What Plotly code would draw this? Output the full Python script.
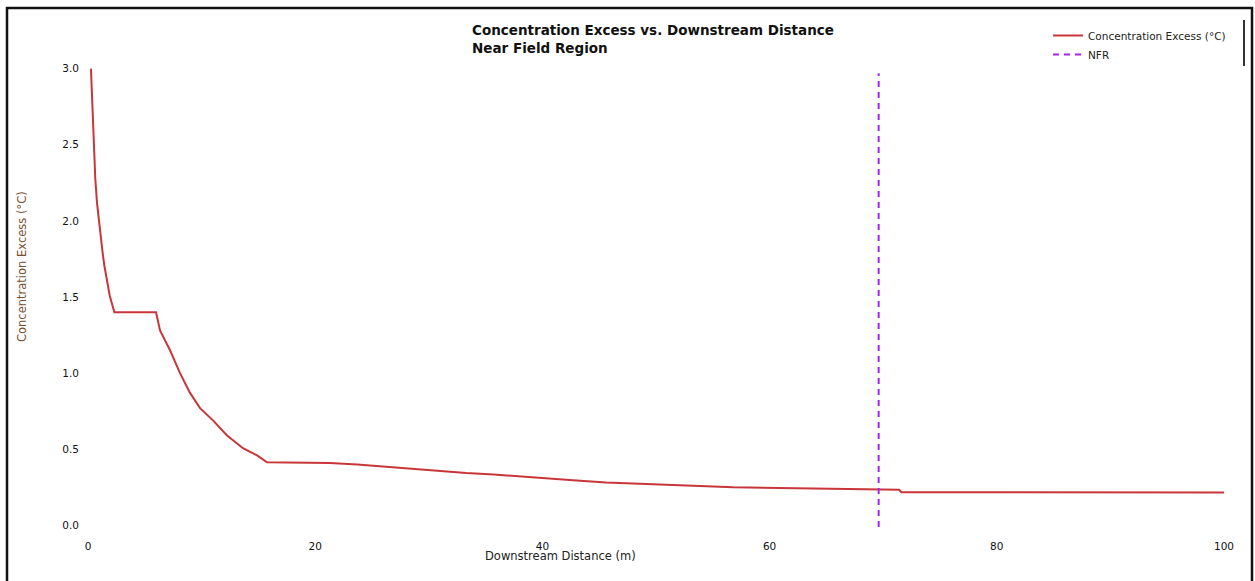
import plotly.graph_objects as go

# Concentration excess curve
distance_m = [0.26, 0.38, 0.50, 0.64, 0.79, 0.97, 1.14, 1.29, 1.43, 1.58, 1.76, 1.91, 2.09, 2.32,
              5.99, 6.34, 7.22, 8.10, 8.98, 9.86, 11.0, 12.24, 13.64, 14.88, 15.76,
              21.3, 23.7, 26.2, 28.4, 30.8, 33.3, 35.7, 38.0, 40.6, 43.0, 45.6, 51.3, 56.8,
              71.4, 71.6, 100.0]
conc_excess = [3.00, 2.74, 2.48, 2.28, 2.12, 1.99, 1.875, 1.79, 1.71, 1.64, 1.57, 1.51, 1.46, 1.40,
               1.40, 1.28, 1.15, 1.00, 0.87, 0.77, 0.69, 0.59, 0.507, 0.46, 0.414,
               0.41, 0.40, 0.386, 0.37, 0.357, 0.344, 0.334, 0.32, 0.307, 0.294, 0.281, 0.266, 0.25,
               0.234, 0.218, 0.216]

# Near field region boundary
nfr_x = [69.6, 69.6]
nfr_y = [-0.01, 2.97]

x_ticks = [0, 20, 40, 60, 80, 100]
x_tick_labels = ["0", "20", "40", "60", "80", "100"]
y_ticks = [0.0, 0.5, 1.0, 1.5, 2.0, 2.5, 3.0]
y_tick_labels = ["0.0", "0.5", "1.0", "1.5", "2.0", "2.5", "3.0"]

FONT = "DejaVu Sans, Verdana, sans-serif"

fig = go.Figure()
fig.add_trace(go.Scatter(x=distance_m, y=conc_excess, mode="lines",
                         name="Concentration Excess (°C)",
                         line=dict(color="#c8363a", width=2)))
fig.add_trace(go.Scatter(x=nfr_x, y=nfr_y, mode="lines", name="NFR",
                         line=dict(color="#a424ef", width=2, dash="6px,5px")))

W, H = 1255, 581
ml, mr, mt, mb = 88, 31, 61, 48
pw, ph = W - ml - mr, H - mt - mb

def px(xp):
    return (xp - ml) / pw

def py(yp):
    return (H - mb - yp) / ph

fig.update_layout(
    width=W, height=H, autosize=False,
    margin=dict(l=ml, r=mr, t=mt, b=mb),
    paper_bgcolor="white", plot_bgcolor="white",
    font=dict(family=FONT, size=10, color="#111111"),
    showlegend=True,
    legend=dict(x=px(1048), y=py(21), xanchor="left", yanchor="top",
                font=dict(size=10.5, color="#222222"), bgcolor="rgba(0,0,0,0)",
                tracegroupgap=0, itemwidth=30),
    xaxis=dict(range=[0, 100], tickvals=x_ticks, ticktext=x_tick_labels,
               showgrid=False, zeroline=False, showline=False, ticks="",
               ticklabelstandoff=5,
               tickfont=dict(size=10.5, color="#111111")),
    yaxis=dict(range=[-0.05, 3.05], tickvals=y_ticks, ticktext=y_tick_labels,
               showgrid=False, zeroline=False, showline=False, ticks="",
               ticklabelstandoff=8,
               tickfont=dict(size=10.5, color="#111111")),
    annotations=[
        dict(text="<b>Concentration Excess vs. Downstream Distance</b><br><b>Near Field Region</b>",
             xref="paper", yref="paper", x=px(470), y=py(20), xanchor="left", yanchor="top",
             align="left", showarrow=False, font=dict(size=13.5, color="#111111", family=FONT)),
        dict(text="Downstream Distance (m)", xref="paper", yref="paper",
             x=px(560), y=py(556), xanchor="center", yanchor="middle", showarrow=False,
             font=dict(size=11.5, color="#222222", family=FONT)),
        dict(text="Concentration Excess (°C)", xref="paper", yref="paper",
             x=px(22), y=py(267), xanchor="center", yanchor="middle", textangle=-90,
             showarrow=False, font=dict(size=11.5, color="#7a5030", family=FONT)),
    ],
    shapes=[
        dict(type="rect", xref="paper", yref="paper",
             x0=px(7), x1=px(1252), y0=py(590), y1=py(8),
             line=dict(color="#111111", width=2.5), fillcolor="rgba(0,0,0,0)", layer="above"),
        dict(type="line", xref="paper", yref="paper",
             x0=px(1244), x1=px(1244), y0=py(20), y1=py(66),
             line=dict(color="#333333", width=2)),
    ],
)

fig.write_html("out.html", config={"displayModeBar": False},
               post_script="document.body.style.margin='0';document.body.style.overflow='hidden';")
